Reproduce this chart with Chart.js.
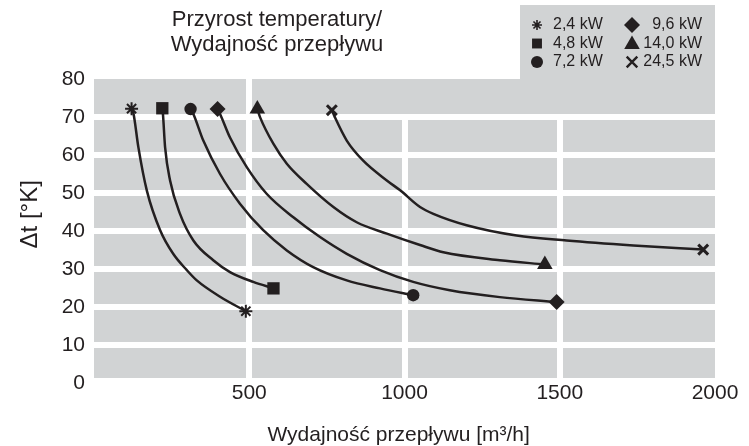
<!DOCTYPE html>
<html>
<head>
<meta charset="utf-8">
<script src="https://cdn.jsdelivr.net/npm/chart.js@4.4.1/dist/chart.umd.min.js"></script>
<style>
html, body { margin: 0; padding: 0; background: #fff; }
#wrap { width: 749px; height: 446px; }
</style>
</head>
<body>
<div id="wrap"><canvas id="flowChart"></canvas></div>
<script>
// temperature rise vs air flow, one curve per heater power
var powerLabels = ['2,4 kW', '4,8 kW', '7,2 kW', '9,6 kW', '14,0 kW', '24,5 kW'];
var markerStyles = ['star', 'rect', 'circle', 'rectRot', 'triangle', 'crossRot'];

var flow24 = [121, 127, 143, 170, 213, 255, 299, 331, 406, 489];
var dt24   = [72.2, 71.0, 62.0, 50.7, 40.2, 34.0, 29.7, 27.0, 22.7, 18.9];

var flow48 = [220, 222, 229, 245, 277, 320, 384, 438, 513, 578];
var dt48   = [72.3, 70.8, 62.0, 53.3, 44.5, 37.5, 32.3, 29.2, 26.6, 24.9];

var flow72 = [311, 320, 352, 406, 470, 545, 621, 706, 814, 921, 1028];
var dt72   = [72.1, 70.8, 63.8, 55.0, 47.2, 40.2, 34.9, 30.5, 27.0, 24.9, 23.1];

var flow96 = [398, 406, 438, 492, 556, 642, 728, 814, 921, 1028, 1146, 1307, 1490];
var dt96   = [72.1, 70.8, 64.6, 56.8, 49.8, 43.6, 38.4, 34.0, 29.7, 26.6, 24.4, 22.6, 21.3];

var flow140 = [526, 535, 578, 621, 685, 771, 846, 943, 1050, 1125, 1307, 1452];
var dt140   = [72.1, 69.9, 62.9, 57.7, 52.4, 46.3, 42.3, 39.3, 36.3, 34.4, 32.3, 31.2];

var flow245 = [766, 776, 814, 867, 943, 986, 1050, 1093, 1200, 1361, 1522, 1737, 1962];
var dt245   = [71.8, 69.9, 63.8, 58.5, 53.3, 50.7, 46.3, 44.5, 41.5, 38.8, 37.5, 36.2, 35.1];

var xTicks = [0, 500, 1000, 1500, 2000];
var yTicks = [0, 10, 20, 30, 40, 50, 60, 70, 80];

var INK = '#231f20';
var PANEL = '#d1d3d4';
var FONT = '"Liberation Sans", Arial, Helvetica, sans-serif';

var allFlows = [flow24, flow48, flow72, flow96, flow140, flow245];
var allDts = [dt24, dt48, dt72, dt96, dt140, dt245];
var plotRadius = [6.5, 8.7, 6.2, 8, 9, 7];
var legendRadius = [5, 7, 6, 8, 9, 7.5];

function toPoints(xs, ys) {
    var pts = [];
    for (var i = 0; i < xs.length; i++) {
        pts.push({x: xs[i], y: ys[i]});
    }
    return pts;
}

function markerLine(style) {
    if (style === 'star') return 2;
    if (style === 'crossRot') return 3;
    return 0;
}

var datasets = [];
for (var s = 0; s < powerLabels.length; s++) {
    (function (s) {
        var last = allFlows[s].length - 1;
        datasets.push({
            label: powerLabels[s],
            data: toPoints(allFlows[s], allDts[s]),
            borderColor: INK,
            backgroundColor: INK,
            borderWidth: 2.5,
            cubicInterpolationMode: 'monotone',
            pointStyle: markerStyles[s],
            pointBackgroundColor: INK,
            pointBorderColor: INK,
            pointBorderWidth: markerLine(markerStyles[s]),
            pointRadius: function (ctx) {
                return (ctx.dataIndex === 0 || ctx.dataIndex === last) ? plotRadius[s] : 0;
            },
            pointHoverRadius: 0
        });
    })(s);
}

// grey panel behind the plot and the legend box, heading and legend text
const panelBackground = {
    id: 'panelBackground',
    beforeDraw(chart) {
        const {ctx, chartArea} = chart;
        ctx.save();
        ctx.fillStyle = PANEL;
        ctx.fillRect(chartArea.left, chartArea.top, chartArea.right - chartArea.left, chartArea.bottom - chartArea.top - 5);
        ctx.fillRect(520, 5, chartArea.right - 520, chartArea.top - 5 + 1);
        ctx.restore();
    },
    beforeDatasetsDraw(chart) {
        // the top band has no vertical grid lines from 1000 on
        const {ctx, chartArea, scales} = chart;
        const x0 = scales.x.getPixelForValue(1000) - 4;
        const y70 = scales.y.getPixelForValue(70) - 3;
        ctx.save();
        ctx.fillStyle = PANEL;
        ctx.fillRect(x0, chartArea.top, chartArea.right - x0, y70 - chartArea.top);
        ctx.restore();
    },
    afterDraw(chart) {
        const {ctx} = chart;
        ctx.save();
        ctx.fillStyle = INK;
        ctx.textBaseline = 'middle';
        ctx.font = '22px ' + FONT;
        ctx.textAlign = 'center';
        ctx.fillText('Przyrost temperatury/', 277, 20);
        ctx.fillText('Wydajność przepływu', 277, 45);
        // legend, two columns of three
        ctx.font = '16px ' + FONT;
        for (var i = 0; i < powerLabels.length; i++) {
            var col = i < 3 ? 0 : 1;
            var row = i % 3;
            var my = 25 + row * 18.5;
            var mx = col === 0 ? 537 : 632;
            var lw = markerLine(markerStyles[i]) * 0.8;
            ctx.fillStyle = INK;
            ctx.strokeStyle = INK;
            ctx.lineWidth = lw;
            Chart.helpers.drawPoint(ctx, {
                pointStyle: markerStyles[i],
                radius: legendRadius[i],
                borderWidth: lw
            }, mx, markerStyles[i] === 'triangle' ? my + 1 : my);
            if (col === 0) {
                ctx.textAlign = 'left';
                ctx.fillText(powerLabels[i], 553, my);
            } else {
                ctx.textAlign = 'right';
                ctx.fillText(powerLabels[i], 702, my);
            }
        }
        ctx.restore();
    }
};

function gridColor(lo, hi) {
    return function (ctx) {
        var v = ctx.tick ? ctx.tick.value : null;
        return (v > lo && v < hi) ? '#ffffff' : 'rgba(0,0,0,0)';
    };
}

const chart = new Chart(document.getElementById('flowChart'), {
    type: 'line',
    data: { datasets: datasets },
    plugins: [panelBackground],
    options: {
        responsive: true,
        maintainAspectRatio: false,
        animation: false,
        events: [],
        layout: { padding: { top: 79, right: 34, left: 0, bottom: 0 } },
        plugins: {
            legend: { display: false },
            tooltip: { enabled: false },
            title: { display: false }
        },
        scales: {
            x: {
                type: 'linear',
                min: xTicks[0],
                max: xTicks[xTicks.length - 1],
                afterBuildTicks: function (axis) {
                    axis.ticks = xTicks.map(function (v) { return {value: v}; });
                },
                afterFit: function (axis) { axis.height = 63; },
                border: { display: false },
                grid: { color: gridColor(0, 2000), lineWidth: 6, drawTicks: false },
                ticks: {
                    color: INK,
                    padding: 0,
                    font: { family: FONT, size: 21, lineHeight: 1 },
                    callback: function (v) { return v === 0 ? '' : String(v); }
                },
                title: {
                    display: true,
                    text: 'Wydajność przepływu [m³/h]  ',
                    color: INK,
                    padding: 0,
                    font: { family: FONT, size: 21, lineHeight: 1 }
                }
            },
            y: {
                type: 'linear',
                min: yTicks[0],
                max: yTicks[yTicks.length - 1],
                afterBuildTicks: function (axis) {
                    axis.ticks = yTicks.map(function (v) { return {value: v}; });
                },
                afterFit: function (axis) { axis.width = 94; },
                border: { display: false },
                grid: { color: gridColor(0, 80), lineWidth: 6, drawTicks: false },
                ticks: {
                    color: INK,
                    padding: 9,
                    font: { family: FONT, size: 21 },
                    callback: function (v) { return String(v); }
                },
                title: {
                    display: true,
                    text: '     Δt [°K]',
                    color: INK,
                    padding: { top: 16, bottom: 0 },
                    font: { family: FONT, size: 24 }
                }
            }
        }
    }
});
</script>
</body>
</html>
